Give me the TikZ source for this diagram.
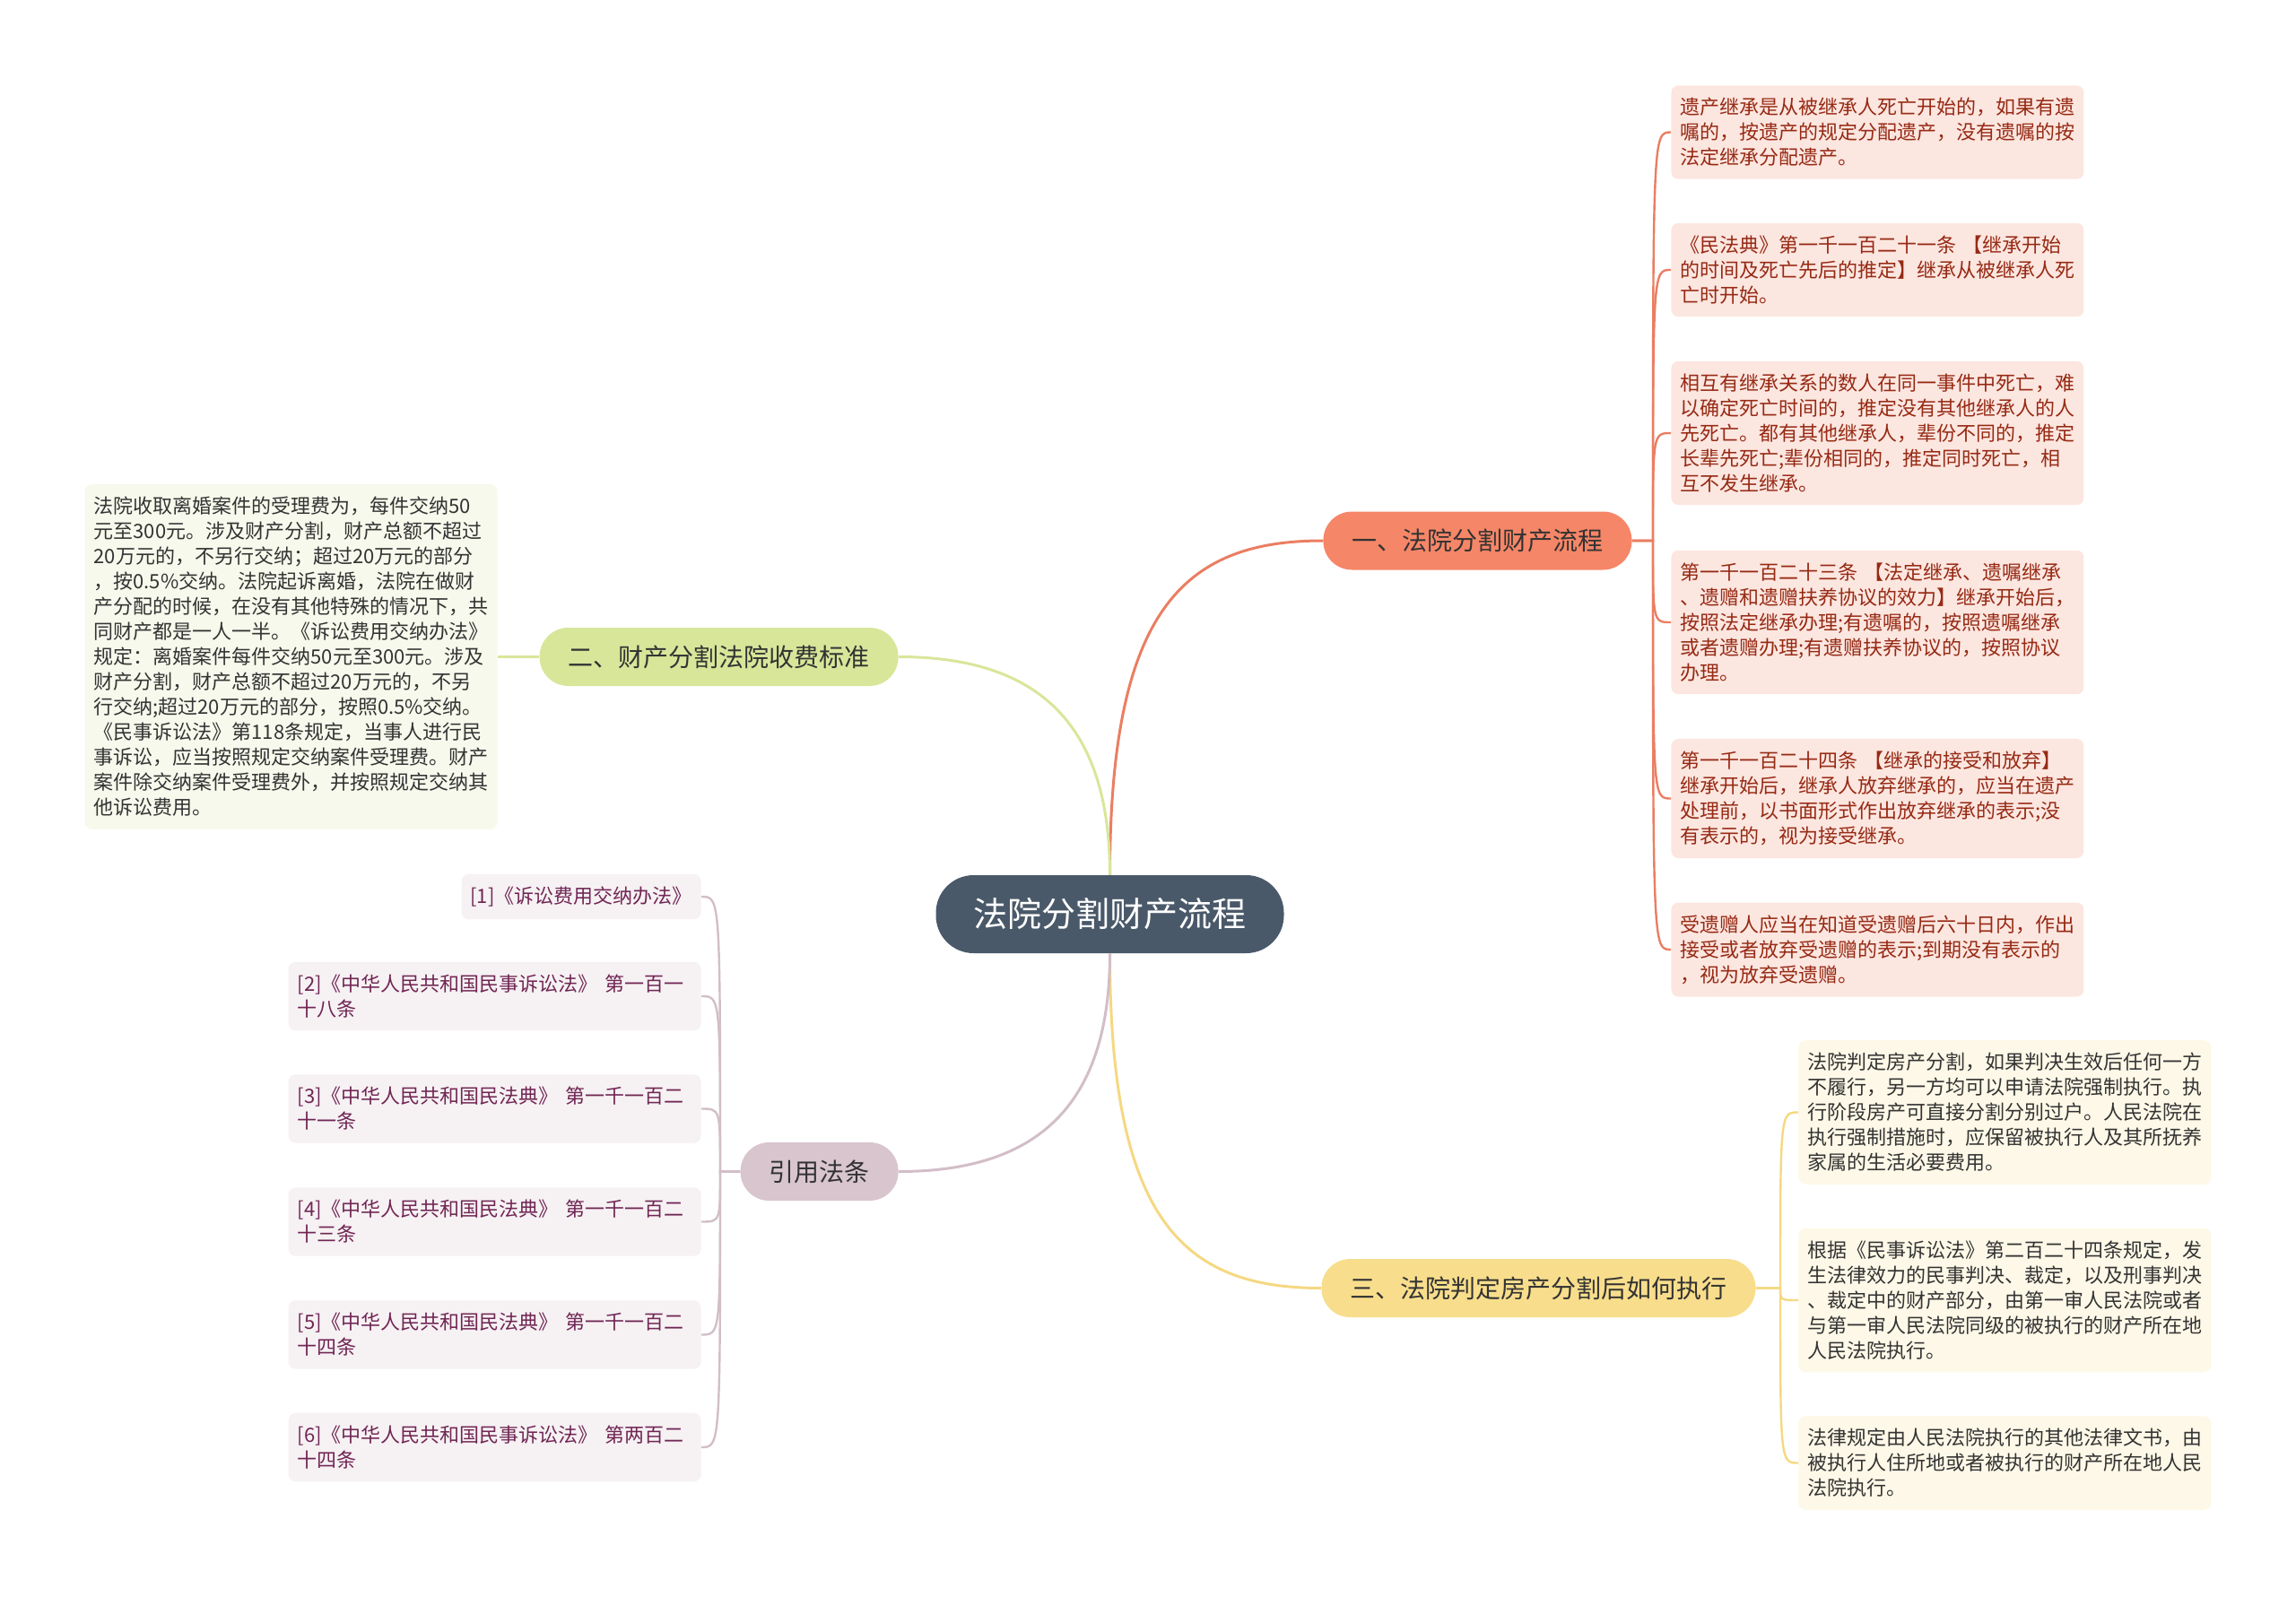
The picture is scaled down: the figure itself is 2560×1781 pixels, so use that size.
\documentclass[tikz,border=0pt]{standalone}
\usepackage{fontspec}
\setmainfont{Noto Sans CJK SC}
\definecolor{rootgray}{RGB}{74,89,105}
\definecolor{coral}{RGB}{246,134,104}
\definecolor{coralline}{RGB}{234,126,98}
\definecolor{coralpale}{RGB}{252,230,224}
\definecolor{coraltext}{RGB}{150,42,20}
\definecolor{lime}{RGB}{216,230,154}
\definecolor{limepale}{RGB}{247,249,236}
\definecolor{sand}{RGB}{248,222,140}
\definecolor{sandline}{RGB}{245,216,130}
\definecolor{sandpale}{RGB}{253,248,231}
\definecolor{mauve}{RGB}{216,197,206}
\definecolor{mauveline}{RGB}{210,190,200}
\definecolor{mauvepale}{RGB}{246,241,243}
\definecolor{mauvetext}{RGB}{112,38,84}

\begin{document}
\begin{tikzpicture}[
      x=0.5pt,y=-0.5pt,
      root/.style={fill=rootgray, text=white, rounded corners=21pt, inner xsep=21pt, minimum height=43.5pt, font=\fontsize{19pt}{23pt}\selectfont},
      branch/.style={rounded corners=16pt, inner xsep=16pt, minimum height=32.5pt, text=black!80, font=\fontsize{14pt}{17pt}\selectfont},
      leaf/.style={rounded corners=4pt, inner xsep=5pt, inner ysep=7pt, align=left, font=\fontsize{11pt}{14pt}\selectfont},
      wide/.style={text width=220pt},
      link/.style={line width=1.5pt},
      twig/.style={line width=1.2pt}
    ]
      \useasboundingbox (0,0) rectangle (2560,1781);
      % root and main branches
      \node[root] (c) at (1237.5,1019.5) {法院分割财产流程};
      \node[branch, fill=coral, anchor=west] (b1) at (1475,603) {一、法院分割财产流程};
      \node[branch, fill=lime, anchor=east] (b2) at (1002,732.5) {二、财产分割法院收费标准};
      \node[branch, fill=sand, anchor=west] (b3) at (1473,1436.5) {三、法院判定房产分割后如何执行};
      \node[branch, fill=mauve, anchor=east] (b4) at (1002,1306.5) {引用法条};
      \draw[link, coralline] (c.north) .. controls +(0,-296) and +(-155,0) .. (b1.west);
      \draw[link, lime] (c.north) .. controls +(0,-176) and +(148,0) .. (b2.east);
      \draw[link, sandline] (c.south) .. controls +(0,296) and +(-155,0) .. (b3.west);
      \draw[link, mauveline] (c.south) .. controls +(0,176) and +(148,0) .. (b4.east);
      % branch 1
      \node[leaf, wide, fill=coralpale, text=coraltext, anchor=west] (r1) at (1863,147.5) {遗产继承是从被继承人死亡开始的，如果有遗\\嘱的，按遗产的规定分配遗产，没有遗嘱的按\\法定继承分配遗产。};
      \node[leaf, wide, fill=coralpale, text=coraltext, anchor=west] (r2) at (1863,301) {《民法典》第一千一百二十一条 【继承开始\\的时间及死亡先后的推定】继承从被继承人死\\亡时开始。};
      \node[leaf, wide, fill=coralpale, text=coraltext, anchor=west] (r3) at (1863,483) {相互有继承关系的数人在同一事件中死亡，难\\以确定死亡时间的，推定没有其他继承人的人\\先死亡。都有其他继承人，辈份不同的，推定\\长辈先死亡;辈份相同的，推定同时死亡，相\\互不发生继承。};
      \node[leaf, wide, fill=coralpale, text=coraltext, anchor=west] (r4) at (1863,694) {第一千一百二十三条 【法定继承、遗嘱继承\\、遗赠和遗赠扶养协议的效力】继承开始后，\\按照法定继承办理;有遗嘱的，按照遗嘱继承\\或者遗赠办理;有遗赠扶养协议的，按照协议\\办理。};
      \node[leaf, wide, fill=coralpale, text=coraltext, anchor=west] (r5) at (1863,890.5) {第一千一百二十四条 【继承的接受和放弃】\\继承开始后，继承人放弃继承的，应当在遗产\\处理前，以书面形式作出放弃继承的表示;没\\有表示的，视为接受继承。};
      \node[leaf, wide, fill=coralpale, text=coraltext, anchor=west] (r6) at (1863,1059) {受遗赠人应当在知道受遗赠后六十日内，作出\\接受或者放弃受遗赠的表示;到期没有表示的\\，视为放弃受遗赠。};
      \coordinate (j1) at (1843,603);
      \foreach \i in {1,...,6}
        \draw[twig, coralline] (b1.east) -- (j1) .. controls (j1 |- r\i.west) .. (r\i.west);
      % branch 2
      \node[leaf, wide, fill=limepale, text=black!80, anchor=east] (l1) at (555,732.5) {法院收取离婚案件的受理费为，每件交纳50\\元至300元。涉及财产分割，财产总额不超过\\20万元的，不另行交纳；超过20万元的部分\\，按0.5\%交纳。法院起诉离婚，法院在做财\\产分配的时候，在没有其他特殊的情况下，共\\同财产都是一人一半。《诉讼费用交纳办法》\\规定：离婚案件每件交纳50元至300元。涉及\\财产分割，财产总额不超过20万元的，不另\\行交纳;超过20万元的部分，按照0.5\%交纳。\\《民事诉讼法》第118条规定，当事人进行民\\事诉讼，应当按照规定交纳案件受理费。财产\\案件除交纳案件受理费外，并按照规定交纳其\\他诉讼费用。};
      \draw[twig, lime] (b2.west) -- (l1.east);
      % branch 3
      \node[leaf, wide, fill=sandpale, text=black!80, anchor=west] (t1) at (2005,1240.5) {法院判定房产分割，如果判决生效后任何一方\\不履行，另一方均可以申请法院强制执行。执\\行阶段房产可直接分割分别过户。人民法院在\\执行强制措施时，应保留被执行人及其所抚养\\家属的生活必要费用。};
      \node[leaf, wide, fill=sandpale, text=black!80, anchor=west] (t2) at (2005,1450) {根据《民事诉讼法》第二百二十四条规定，发\\生法律效力的民事判决、裁定，以及刑事判决\\、裁定中的财产部分，由第一审人民法院或者\\与第一审人民法院同级的被执行的财产所在地\\人民法院执行。};
      \node[leaf, wide, fill=sandpale, text=black!80, anchor=west] (t3) at (2005,1631.5) {法律规定由人民法院执行的其他法律文书，由\\被执行人住所地或者被执行的财产所在地人民\\法院执行。};
      \coordinate (j3) at (1985,1436.5);
      \foreach \i in {1,2,3}
        \draw[twig, sandline] (b3.east) -- (j3) .. controls (j3 |- t\i.west) .. (t\i.west);
      % cited laws
      \node[leaf, fill=mauvepale, text=mauvetext, anchor=east] (f1) at (782,1000) {[1]《诉讼费用交纳办法》};
      \node[leaf, wide, fill=mauvepale, text=mauvetext, anchor=east] (f2) at (782,1111) {[2]《中华人民共和国民事诉讼法》 第一百一\\十八条};
      \node[leaf, wide, fill=mauvepale, text=mauvetext, anchor=east] (f3) at (782,1236.5) {[3]《中华人民共和国民法典》 第一千一百二\\十一条};
      \node[leaf, wide, fill=mauvepale, text=mauvetext, anchor=east] (f4) at (782,1362.5) {[4]《中华人民共和国民法典》 第一千一百二\\十三条};
      \node[leaf, wide, fill=mauvepale, text=mauvetext, anchor=east] (f5) at (782,1488.5) {[5]《中华人民共和国民法典》 第一千一百二\\十四条};
      \node[leaf, wide, fill=mauvepale, text=mauvetext, anchor=east] (f6) at (782,1614) {[6]《中华人民共和国民事诉讼法》 第两百二\\十四条};
      \coordinate (j4) at (803,1306.5);
      \foreach \i in {1,...,6}
        \draw[twig, mauveline] (b4.west) -- (j4) .. controls (j4 |- f\i.east) .. (f\i.east);
    \end{tikzpicture}
\end{document}
